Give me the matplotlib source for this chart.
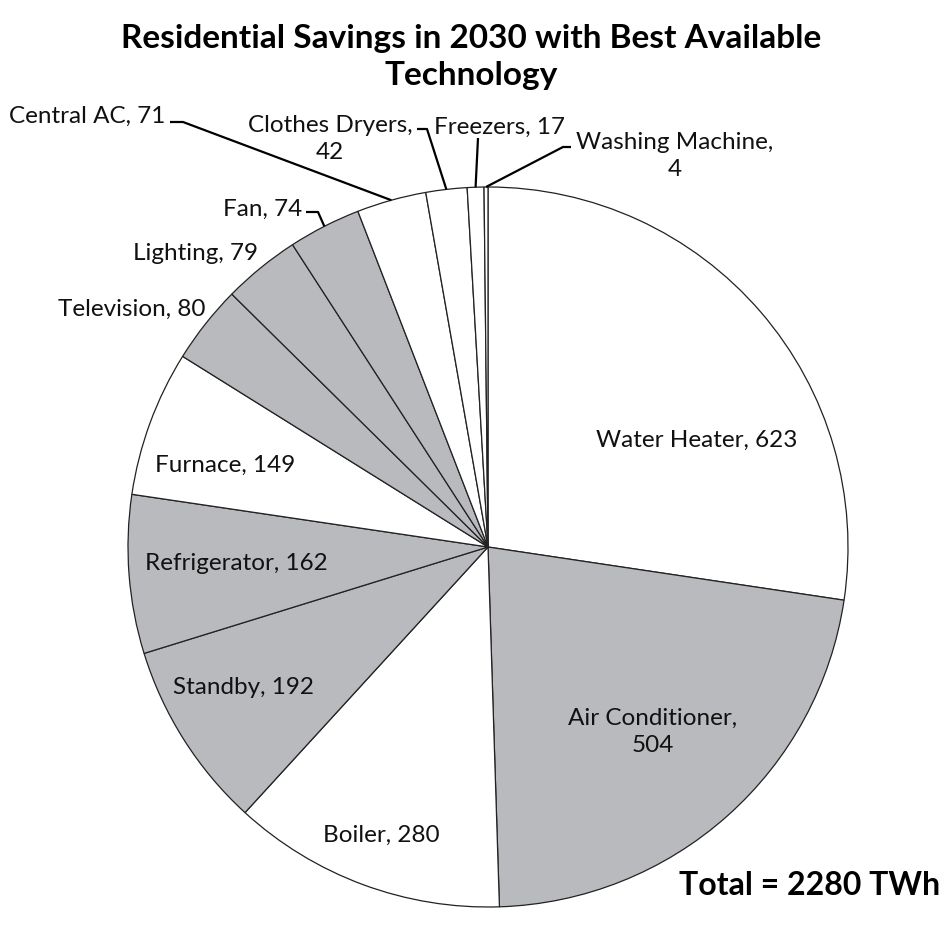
import numpy as np
import matplotlib
matplotlib.use('Agg')
import matplotlib.pyplot as plt

# Data
categories = ['Water Heater', 'Air Conditioner', 'Boiler', 'Standby', 'Refrigerator',
              'Furnace', 'Television', 'Lighting', 'Fan', 'Central AC',
              'Clothes Dryers', 'Freezers', 'Washing Machine']
savings = [623, 504, 280, 192, 162, 149, 80, 79, 74, 71, 42, 17, 4]
shaded = [False, True, False, True, True, False, True, True, True, False, False, False, False]
total_label = 'Total = 2280 TWh'

plt.rcParams['font.family'] = ['Lato', 'DejaVu Sans']

W, H = 946, 930
fig = plt.figure(figsize=(W / 100, H / 100), dpi=100)
ax = fig.add_axes([0, 0, 1, 1])

def Y(y):
    # convert image-style y (from the top) to data y
    return H - y

cx, cy, r = 488, Y(547), 360
colors = ['#b9babe' if s else 'white' for s in shaded]
wedges, _ = ax.pie(savings, colors=colors, startangle=90, counterclock=False,
                   center=(cx, cy), radius=r,
                   wedgeprops=dict(edgecolor='#222222', linewidth=0.9))

ax.set_xlim(0, W)
ax.set_ylim(0, H)
ax.axis('off')

def edge_point(w):
    a = np.deg2rad((w.theta1 + w.theta2) / 2)
    return cx + r * np.cos(a), cy + r * np.sin(a)

fs = 17.5
lsp = 1.4
# labels inside the pie
inside = {
    0: (697, 440, 'Water Heater, 623'),
    1: (653, 732, 'Air Conditioner,\n504'),
    2: (381, 835, 'Boiler, 280'),
    3: (243, 688, 'Standby, 192'),
    4: (236, 563, 'Refrigerator, 162'),
    5: (225, 465, 'Furnace, 149'),
}
for i, (x, y, t) in inside.items():
    ax.text(x, Y(y), t, ha='center', va='center', fontsize=fs, color='#111111',
            linespacing=lsp)

# labels outside, without leader lines
ax.text(205, Y(309), 'Television, 80', ha='right', va='center', fontsize=fs, color='#111111')
ax.text(258, Y(253), 'Lighting, 79', ha='right', va='center', fontsize=fs, color='#111111')

# labels outside, with leader lines
ax.text(302, Y(209), 'Fan, 74', ha='right', va='center', fontsize=fs, color='#111111')
ax.text(165, Y(116), 'Central AC, 71', ha='right', va='center', fontsize=fs, color='#111111')
ax.text(330, Y(139), 'Clothes Dryers,\n42', ha='center', va='center', fontsize=fs,
        color='#111111', linespacing=lsp)
ax.text(434, Y(127), 'Freezers, 17', ha='left', va='center', fontsize=fs, color='#111111')
ax.text(675, Y(156), 'Washing Machine,\n4', ha='center', va='center', fontsize=fs,
        color='#111111', linespacing=lsp)

leaders = {
    8: [(306, 212), (318, 212)],
    9: [(170, 122), (183, 122)],
    10: [(417, 129), (427, 129)],
    11: [(478, 138)],
    12: [(571, 147), (563, 147)],
}
for i, pts in leaders.items():
    ex, ey = edge_point(wedges[i])
    xs = [p[0] for p in pts] + [ex]
    ys = [Y(p[1]) for p in pts] + [ey]
    ax.plot(xs, ys, color='black', linewidth=1.6, solid_capstyle='butt')

ax.text(471, Y(57), 'Residential Savings in 2030 with Best Available\nTechnology',
        ha='center', va='center', fontsize=24, fontweight='bold', linespacing=1.3)
ax.text(940, Y(885), total_label, ha='right', va='center', fontsize=23, fontweight='bold')

fig.savefig('out.png', dpi=100)
